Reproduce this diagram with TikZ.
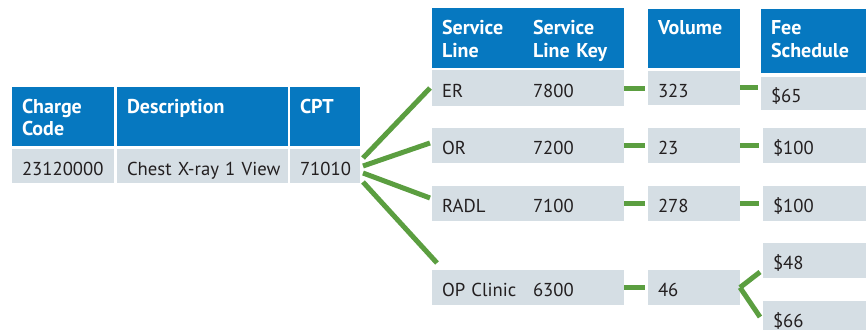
\documentclass[tikz,border=0pt]{standalone}
\usepackage{fontspec}
\setmainfont{PT Sans}
\usetikzlibrary{calc}
\definecolor{hblue}{HTML}{0678C0}
\definecolor{dgray}{HTML}{D5DEE4}
\definecolor{lgreen}{HTML}{5B9E40}
\definecolor{txt}{HTML}{231F20}
\tikzset{
  cell/.style={anchor=north west, inner xsep=10pt, inner ysep=0pt, outer sep=0pt, align=left},
  hd/.style={cell, fill=hblue, text=white, font=\bfseries\fontsize{20}{22}\selectfont},
  dt/.style={cell, fill=dgray, text=txt, font=\fontsize{18.7}{22}\selectfont},
  sz/.style n args={3}{text width=#1, text height=#2, text depth=#3},
  conn/.style={draw=lgreen, line width=5pt},
}
\begin{document}
\begin{tikzpicture}[x=1pt,y=-1pt]
\useasboundingbox (0,0) rectangle (866,329);
\clip (0,0) rectangle (866,329);
% left table
\node[hd, sz={82pt}{26pt}{33pt}] (cch) at (12,87) {Charge\\Code};
\node[hd, sz={151pt}{26pt}{33pt}] (desch) at (117,87) {Description};
\node[hd, sz={50pt}{26pt}{33pt}] (cpth) at (290,87) {CPT};
\node[dt, sz={82pt}{26pt}{8pt}] (ccd) at (12,149) {23120000};
\node[dt, sz={151pt}{26pt}{8pt}] (descd) at (117,149) {\mbox{Chest X-ray 1 View}};
\node[dt, sz={50pt}{26pt}{8pt}] (cptd) at (290,149) {71010};
% right headers
\node[hd, sz={71pt}{27pt}{33pt}] (slh) at (432,8) {Service\\Line};
\node[hd, sz={81pt}{27pt}{33pt}] (keyh) at (523,8) {Service\\\mbox{Line Key}};
\node[hd, sz={72pt}{26pt}{33pt}] (volh) at (648,9) {Volume};
\node[hd, sz={95pt}{26pt}{38pt}] (feeh) at (761,9) {Fee\\Schedule};
% ER
\node[dt, sz={71pt}{27pt}{9pt}] (er) at (432,70) {ER};
\node[dt, sz={81pt}{27pt}{9pt}] (erk) at (523,70) {7800};
\node[dt, sz={72pt}{26pt}{8pt}] (erv) at (648,71) {323};
\node[dt, sz={95pt}{25pt}{8pt}] (erf) at (761,77) {\$65};
% OR
\node[dt, sz={71pt}{26.5pt}{8.5pt}] (or) at (432,128) {OR};
\node[dt, sz={81pt}{26.5pt}{8.5pt}] (ork) at (523,128) {7200};
\node[dt, sz={72pt}{26.5pt}{8.5pt}] (orv) at (648,128) {23};
\node[dt, sz={93pt}{26.5pt}{8.5pt}] (orf) at (763,128) {\$100};
% RADL
\node[dt, sz={71pt}{26.5pt}{8.5pt}] (radl) at (432,186) {RADL};
\node[dt, sz={81pt}{26.5pt}{8.5pt}] (radlk) at (523,186) {7100};
\node[dt, sz={72pt}{26.5pt}{8.5pt}] (radlv) at (648,186) {278};
\node[dt, sz={93pt}{26.5pt}{8.5pt}] (radlf) at (763,186) {\$100};
% OP Clinic
\node[dt, sz={71pt}{26.5pt}{8.5pt}] (op) at (432,270) {\mbox{OP Clinic}};
\node[dt, sz={81pt}{26.5pt}{8.5pt}] (opk) at (523,270) {6300};
\node[dt, sz={72pt}{26.5pt}{8.5pt}] (opv) at (648,270) {46};
\node[dt, sz={93pt}{26.5pt}{8.5pt}] (f48) at (763,243) {\$48};
\node[dt, sz={93pt}{26.5pt}{8.5pt}] (f66) at (763,301) {\$66};
% fan connectors
\draw[conn] ($(cptd.east)+(3,-8)$) -- ($(er.west)+(-2,0)$);
\draw[conn] ($(cptd.east)+(3,0)$) -- ($(or.west)+(-2,-2.5)$);
\draw[conn] ($(cptd.east)+(3,7)$) -- ($(radl.west)+(-2,-5.5)$);
\draw[conn] ($(cptd.east)+(3,16)$) -- ($(op.north west)+(5,-7)$);
% row connectors
\draw[conn, shorten >=3pt] (erk.east) -- (erv.west);
\draw[conn, shorten >=3pt] (ork.east) -- (orv.west);
\draw[conn, shorten >=3pt] (radlk.east) -- (radlv.west);
\draw[conn, shorten >=3pt] (opk.east) -- (opv.west);
\draw[conn, shorten >=3pt] ($(erv.east)+(0,-1)$) -- ($(erv.east -| erf.west)+(0,-1)$);
\draw[conn, shorten >=4pt] (orv.east) -- (orv.east -| orf.west);
\draw[conn, shorten >=4pt] (radlv.east) -- (radlv.east -| radlf.west);
\draw[conn] (opv.east) -- ($(f48.south west)+(-3,-6)$);
\draw[conn] (opv.east) -- ($(f66.north west)+(-3,16)$);
\end{tikzpicture}
\end{document}
